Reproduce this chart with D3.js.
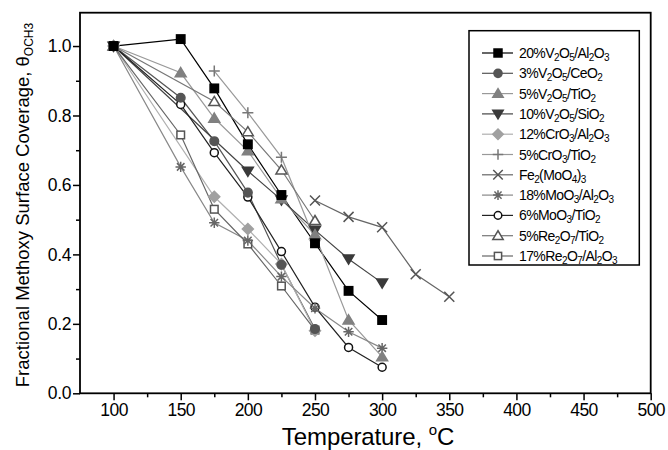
<!DOCTYPE html>
<html><head><meta charset="utf-8">
<script src="https://cdn.jsdelivr.net/npm/d3@7"></script>
<style>body{margin:0;background:#fff}svg{display:block;font-family:"Liberation Sans",Arial,sans-serif}</style>
</head><body><svg id="c" width="668" height="450"></svg>
<script>
// ---- data ----
const xTicks = [100,150,200,250,300,350,400,450,500];
const yTicks = [0.0,0.2,0.4,0.6,0.8,1.0];
const sV20Al = [[100,1.0],[150,1.02],[175,0.878],[200,0.717],[225,0.571],[250,0.432],[275,0.295],[300,0.211]];
const sV3Ce  = [[100,1.0],[150,0.851],[175,0.726],[200,0.578],[225,0.370],[250,0.185]];
const sV5Ti  = [[100,1.0],[150,0.923],[175,0.792],[200,0.698],[225,0.560],[250,0.456],[275,0.211],[300,0.105]];
const sV10Si = [[100,1.0],[200,0.640],[225,0.557],[250,0.470],[275,0.387],[300,0.318]];
const sCr12Al= [[100,1.0],[175,0.566],[200,0.473],[225,0.372],[250,0.180]];
const sCr5Ti = [[175,0.928],[200,0.808],[225,0.680],[250,0.440]];
const sFeMo  = [[250,0.555],[275,0.508],[300,0.478],[325,0.343],[350,0.278]];
const sMo18Al= [[100,1.0],[150,0.652],[175,0.491],[200,0.440],[225,0.336],[250,0.245],[275,0.177],[300,0.130]];
const sMo6Ti = [[100,1.0],[150,0.832],[175,0.693],[200,0.565],[225,0.408],[250,0.248],[275,0.132],[300,0.075]];
const sRe5Ti = [[100,1.0],[175,0.840],[200,0.753],[225,0.643],[250,0.497]];
const sRe17Al= [[100,1.0],[150,0.744],[175,0.530],[200,0.430],[225,0.309],[250,0.182]];

// legend label parts: [text, isSub]
const series = [
 {d:sV20Al, sym:"square", fill:true, col:"#000", lc:"#000", lab:[["20%V",0],["2",1],["O",0],["5",1],["/Al",0],["2",1],["O",0],["3",1]]},
 {d:sV3Ce, sym:"circle", fill:true, col:"#555", lc:"#555", lab:[["3%V",0],["2",1],["O",0],["5",1],["/CeO",0],["2",1]]},
 {d:sV5Ti, sym:"triangle", fill:true, col:"#808080", lc:"#999", lab:[["5%V",0],["2",1],["O",0],["5",1],["/TiO",0],["2",1]]},
 {d:sV10Si, sym:"tridown", fill:true, col:"#3a3a3a", lc:"#444", lab:[["10%V",0],["2",1],["O",0],["5",1],["/SiO",0],["2",1]]},
 {d:sCr12Al, sym:"diamond", fill:true, col:"#a0a0a0", lc:"#b0b0b0", lab:[["12%CrO",0],["3",1],["/Al",0],["2",1],["O",0],["3",1]]},
 {d:sCr5Ti, sym:"plus", fill:false, col:"#777", lc:"#999", lab:[["5%CrO",0],["3",1],["/TiO",0],["2",1]]},
 {d:sFeMo, sym:"x", fill:false, col:"#555", lc:"#666", lab:[["Fe",0],["2",1],["(MoO",0],["4",1],[")",0],["3",1]]},
 {d:sMo18Al, sym:"star", fill:false, col:"#666", lc:"#888", lab:[["18%MoO",0],["3",1],["/Al",0],["2",1],["O",0],["3",1]]},
 {d:sMo6Ti, sym:"circle", fill:false, col:"#111", lc:"#222", lab:[["6%MoO",0],["3",1],["/TiO",0],["2",1]]},
 {d:sRe5Ti, sym:"triangle", fill:false, col:"#555", lc:"#777", lab:[["5%Re",0],["2",1],["O",0],["7",1],["/TiO",0],["2",1]]},
 {d:sRe17Al, sym:"square", fill:false, col:"#555", lc:"#666", lab:[["17%Re",0],["2",1],["O",0],["7",1],["/Al",0],["2",1],["O",0],["3",1]]}
];

const svg = d3.select("#c");
const L=80, R=650.7, T=12.7, B=393.3;
const x = d3.scaleLinear().domain([75,500]).range([L,R]);
const y = d3.scaleLinear().domain([0,1.096]).range([B,T]);

// frame
svg.append("rect").attr("x",L).attr("y",T).attr("width",R-L).attr("height",B-T)
  .attr("fill","none").attr("stroke","#000").attr("stroke-width",1.8);

// axes
const xAx = svg.append("g").attr("transform",`translate(0,${B})`)
  .call(d3.axisBottom(x).tickValues(xTicks).tickSize(7).tickFormat(d3.format("d")));
const xMin = svg.append("g").attr("transform",`translate(0,${B})`)
  .call(d3.axisBottom(x).tickValues(d3.range(125,500,50)).tickSize(4).tickFormat(""));
const yAx = svg.append("g").attr("transform",`translate(${L},0)`)
  .call(d3.axisLeft(y).tickValues(yTicks).tickSize(7).tickFormat(d3.format(".1f")));
const yMin = svg.append("g").attr("transform",`translate(${L},0)`)
  .call(d3.axisLeft(y).tickValues([0.1,0.3,0.5,0.7,0.9]).tickSize(4).tickFormat(""));
[xAx,xMin,yAx,yMin].forEach(g=>{g.select(".domain").remove();g.selectAll("line").attr("stroke","#000").attr("stroke-width",1.5);});
xAx.selectAll("text").attr("font-size",17.5).attr("font-family","Liberation Sans, Arial").attr("fill","#000").attr("dy","0.75em").attr("letter-spacing","-0.6");
yAx.selectAll("text").attr("font-size",17.5).attr("font-family","Liberation Sans, Arial").attr("fill","#000").attr("x",-9).attr("letter-spacing","-0.4");

// titles
const xt = svg.append("text").attr("x",368).attr("y",445).attr("text-anchor","middle")
  .attr("font-size",24).attr("fill","#000").attr("letter-spacing","-0.1");
xt.append("tspan").text("Temperature, ");
xt.append("tspan").attr("font-size",15).attr("dy",-10).text("o");
xt.append("tspan").attr("dy",10).text("C");

const yt = svg.append("text").attr("transform","translate(29,205) rotate(-90)").attr("text-anchor","middle")
  .attr("font-size",18.5).attr("fill","#000");
yt.append("tspan").text("Fractional Methoxy Surface Coverage, θ");
yt.append("tspan").attr("font-size",12).attr("dy",4).text("OCH3");

// symbol drawing
function drawSym(g, s, cx, cy, scale){
  const k = scale||1;
  const st = s.fill ? {fill:s.col, stroke:s.col} : {fill:"#fff", stroke:s.col};
  let el;
  const sw = 1.5;
  if(s.sym==="square"){ const h=(s.fill?4.2:3.8)*k; el=g.append("rect").attr("x",cx-h).attr("y",cy-h).attr("width",2*h).attr("height",2*h); }
  else if(s.sym==="circle"){ el=g.append("circle").attr("cx",cx).attr("cy",cy).attr("r",(s.fill?4.3:4)*k); }
  else if(s.sym==="triangle"){ const h=5.2*k; el=g.append("path").attr("d",`M${cx},${cy-h}L${cx+h*1.05},${cy+h*0.75}L${cx-h*1.05},${cy+h*0.75}Z`); }
  else if(s.sym==="tridown"){ const h=5.2*k; el=g.append("path").attr("d",`M${cx},${cy+h}L${cx+h*1.05},${cy-h*0.75}L${cx-h*1.05},${cy-h*0.75}Z`); }
  else if(s.sym==="diamond"){ const h=5.5*k; el=g.append("path").attr("d",`M${cx},${cy-h}L${cx+h},${cy}L${cx},${cy+h}L${cx-h},${cy}Z`); }
  else if(s.sym==="plus"){ const h=5.5*k; el=g.append("path").attr("d",`M${cx-h},${cy}L${cx+h},${cy}M${cx},${cy-h}L${cx},${cy+h}`); st.fill="none"; }
  else if(s.sym==="x"){ const h=5*k; el=g.append("path").attr("d",`M${cx-h},${cy-h}L${cx+h},${cy+h}M${cx-h},${cy+h}L${cx+h},${cy-h}`); st.fill="none"; }
  else if(s.sym==="star"){ const h=5.2*k, a=h*0.72; el=g.append("path").attr("d",`M${cx-h},${cy}L${cx+h},${cy}M${cx},${cy-h}L${cx},${cy+h}M${cx-a},${cy-a}L${cx+a},${cy+a}M${cx-a},${cy+a}L${cx+a},${cy-a}`); st.fill="none"; }
  el.attr("fill",st.fill).attr("stroke",st.stroke).attr("stroke-width",sw);
}

const line = d3.line().x(d=>x(d[0])).y(d=>y(d[1]));
const plot = svg.append("g");
series.forEach(s=>{
  plot.append("path").attr("d",line(s.d)).attr("fill","none").attr("stroke",s.lc).attr("stroke-width",1.2);
});
series.slice().reverse().forEach(s=>{
  s.d.forEach(p=>drawSym(plot,s,x(p[0]),y(p[1]),1));
});

// legend
const lg = svg.append("g");
const LX0=469, LY0=30.7, LX1=639.3, LY1=265;
lg.append("rect").attr("x",LX0).attr("y",LY0).attr("width",LX1-LX0).attr("height",LY1-LY0)
  .attr("fill","#fff").attr("stroke","#000").attr("stroke-width",1.5);
series.forEach((s,i)=>{
  const yy = 53 + i*20.3;
  lg.append("line").attr("x1",482).attr("x2",513).attr("y1",yy).attr("y2",yy).attr("stroke",s.lc).attr("stroke-width",1.2);
  drawSym(lg,s,498,yy,0.95);
  const t = lg.append("text").attr("x",519).attr("y",yy+5).attr("font-size",14).attr("fill","#000").attr("letter-spacing","-0.6");
  let prevSub=false;
  s.lab.forEach(([txt,sub])=>{
    const ts=t.append("tspan").text(txt);
    if(sub){ ts.attr("font-size",10).attr("dy",prevSub?0:3); }
    else { ts.attr("dy",prevSub?-3:0); }
    prevSub=!!sub;
  });
});
</script></body></html>
